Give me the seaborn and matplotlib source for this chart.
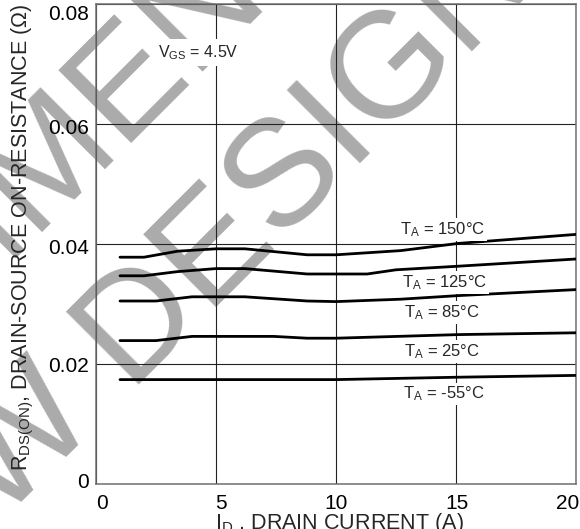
import numpy as np
import pandas as pd
import matplotlib
matplotlib.use("Agg")
import matplotlib.pyplot as plt
import matplotlib.transforms as mtransforms
import seaborn as sns

# ---- data ----
x_150 = [1.0, 2.0, 3.4, 5.0, 6.2, 8.8, 10.0, 12.7, 15.1, 20.0]
y_150 = [0.0378, 0.0378, 0.0388, 0.0392, 0.0392, 0.0382, 0.0382, 0.0389, 0.0401, 0.0416]
x_125 = [1.0, 2.0, 3.4, 5.0, 6.2, 8.8, 11.3, 12.5, 15.1, 20.0]
y_125 = [0.0347, 0.0347, 0.0354, 0.0359, 0.0359, 0.0350, 0.0350, 0.0357, 0.0363, 0.0375]
x_85 = [1.0, 2.5, 4.0, 6.2, 8.8, 10.0, 12.7, 15.1, 20.0]
y_85 = [0.0305, 0.0305, 0.0312, 0.0312, 0.0305, 0.0304, 0.0308, 0.0314, 0.0324]
x_25 = [1.0, 2.5, 4.0, 7.4, 8.8, 10.0, 15.1, 20.0]
y_25 = [0.0239, 0.0239, 0.0246, 0.0246, 0.0243, 0.0243, 0.0249, 0.0252]
x_m55 = [1.0, 10.0, 15.1, 20.0]
y_m55 = [0.0174, 0.0174, 0.0178, 0.0181]

series_names = ["150", "125", "85", "25", "-55"]
curve_labels = [r"T$_\mathregular{A}$ = 150°C", r"T$_\mathregular{A}$ = 125°C",
                r"T$_\mathregular{A}$ = 85°C", r"T$_\mathregular{A}$ = 25°C",
                r"T$_\mathregular{A}$ = -55°C"]
label_x = [12.67, 12.74, 12.82, 12.82, 12.78]
label_y = [0.0416, 0.03285, 0.02777, 0.0213, 0.01425]

x_ticks = [0, 5, 10, 15, 20]
y_ticks = [0, 0.02, 0.04, 0.06, 0.08]
y_tick_labels = ["0", "0.02", "0.04", "0.06", "0.08"]

xs = [x_150, x_125, x_85, x_25, x_m55]
ys = [y_150, y_125, y_85, y_25, y_m55]
df = pd.DataFrame({
    "ID": np.concatenate(xs),
    "R": np.concatenate(ys),
    "T": np.concatenate([[n] * len(x) for n, x in zip(series_names, xs)]),
})

sns.set_theme(style="white")
plt.rcParams["font.family"] = ["Liberation Sans", "DejaVu Sans"]
plt.rcParams["mathtext.fontset"] = "custom"
plt.rcParams["mathtext.rm"] = "Liberation Sans"
plt.rcParams["mathtext.it"] = "Liberation Sans:italic"
plt.rcParams["mathtext.bf"] = "Liberation Sans:bold"

W, H = 580, 529
fig = plt.figure(figsize=(W / 100, H / 100), dpi=100)
ax = fig.add_axes([96 / W, 45 / H, 480 / W, 480 / H])

sns.lineplot(data=df, x="ID", y="R", hue="T", hue_order=series_names,
             palette=["black"] * 5, estimator=None, sort=False,
             linewidth=2.0, legend=False, ax=ax, zorder=3)

ax.set_xlim(0, 20)
ax.set_ylim(0, 0.08)
ax.set_xticks(x_ticks)
ax.set_xticklabels([str(t) for t in x_ticks])
ax.set_yticks(y_ticks)
ax.set_yticklabels(y_tick_labels)
ax.tick_params(axis="both", length=0, labelsize=15, colors="black")
ax.tick_params(axis="y", pad=5)
ax.tick_params(axis="x", pad=7)
ax.grid(True, color="#222222", linewidth=0.8)
ax.set_axisbelow(True)
for s in ax.spines.values():
    s.set_color("#707070")
    s.set_linewidth(1.1)

ax.set_xlabel(r"I$_\mathregular{D}$ , DRAIN CURRENT (A)", fontsize=15.5)
ax.set_ylabel(r"R$_\mathregular{DS(ON)}$, DRAIN-SOURCE ON-RESISTANCE ($\Omega$)",
              fontsize=15.5)
ax.xaxis.set_label_coords(0.508, -0.056)
ax.yaxis.set_label_coords(-0.125, 0.5135)

# per-label nudges (pixels) to mimic the reference typesetting
y_off = [-3, 1, 2, 3, 9]
x_off = [6, 5, 0, 1, -8]
for lab, d in zip(ax.get_yticklabels(), y_off):
    lab.set_transform(lab.get_transform() +
                      mtransforms.ScaledTranslation(0, -d / 100, fig.dpi_scale_trans))
for lab, d in zip(ax.get_xticklabels(), x_off):
    lab.set_transform(lab.get_transform() +
                      mtransforms.ScaledTranslation(d / 100, 0, fig.dpi_scale_trans))

box = dict(facecolor="white", edgecolor="none", pad=1.5)
for lx, ly, txt in zip(label_x, label_y, curve_labels):
    ax.text(lx, ly, txt, fontsize=12, ha="left", va="baseline", zorder=4, bbox=box)
ax.text(2.57, 0.07115, r"V$_\mathregular{GS}$ = 4.5V", fontsize=11.5,
        ha="left", va="baseline", zorder=0.6,
        bbox=dict(facecolor="white", edgecolor="none", pad=3))

# watermark (two lines, rotated 45 degrees), placed in pixel units
wm_size = 109
ax.text(-149 / W, 1 - 672 / H, "NEW DESIGN", transform=fig.transFigure,
        rotation=45, rotation_mode="anchor", ha="left", va="baseline",
        fontsize=wm_size, color="#ababab", clip_on=False, zorder=0.3)
ax.text(-618 / W, 1 - 892 / H, "NOT RECOMMENDED FOR", transform=fig.transFigure,
        rotation=45, rotation_mode="anchor", ha="left", va="baseline",
        fontsize=wm_size, color="#ababab", clip_on=False, zorder=0.3)

fig.savefig("out.png", dpi=100)
